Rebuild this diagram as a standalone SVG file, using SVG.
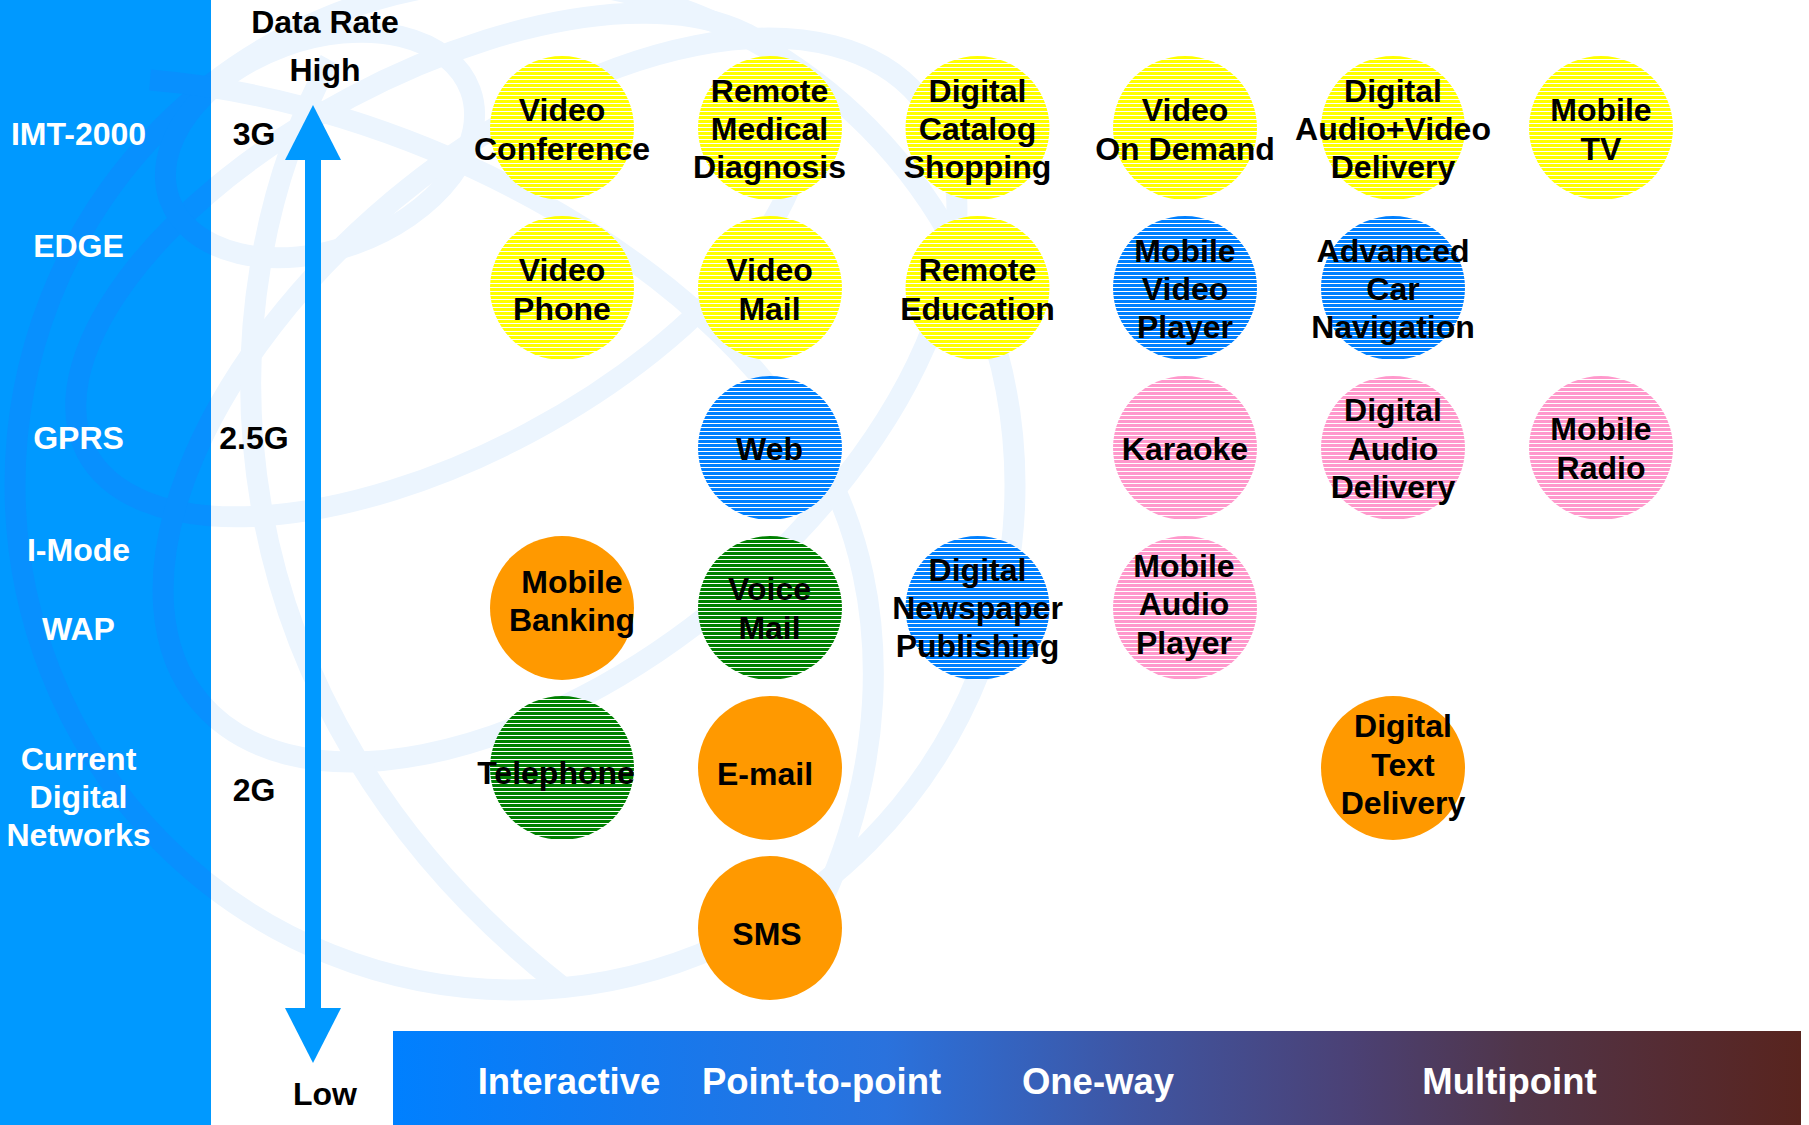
<svg xmlns="http://www.w3.org/2000/svg" width="1809" height="1125" viewBox="0 0 1809 1125">
<style>
.t{font-family:"Liberation Sans",Arial,sans-serif;font-weight:bold;font-size:32px;text-anchor:middle;fill:#000}
.w{fill:#fff}
.b{font-size:36.5px}
.globe{fill:none}
</style>
<defs>
<pattern id="pY" width="8" height="4" patternUnits="userSpaceOnUse"><rect width="8" height="4" fill="#ffff00"/><rect y="3" width="8" height="1" fill="#fff"/></pattern>
<pattern id="pB" width="8" height="4" patternUnits="userSpaceOnUse"><rect width="8" height="4" fill="#0080ff"/><rect y="3" width="8" height="1" fill="#fff"/></pattern>
<pattern id="pP" width="8" height="4" patternUnits="userSpaceOnUse"><rect width="8" height="4" fill="#ff99cc"/><rect y="3" width="8" height="1" fill="#fff"/></pattern>
<pattern id="pG" width="8" height="4" patternUnits="userSpaceOnUse"><rect width="8" height="4" fill="#008000"/><rect y="3" width="8" height="1" fill="#fff"/></pattern>
<linearGradient id="barGrad" x1="0" y1="0" x2="1" y2="0">
<stop offset="0" stop-color="#0080ff"/>
<stop offset="0.35" stop-color="#2a72dd"/>
<stop offset="0.52" stop-color="#3e56a4"/>
<stop offset="0.68" stop-color="#4b4175"/>
<stop offset="0.8" stop-color="#503549"/>
<stop offset="0.9" stop-color="#552c34"/>
<stop offset="1" stop-color="#58241e"/>
</linearGradient>
<clipPath id="panelClip"><rect x="0" y="0" width="211" height="1125"/></clipPath>
<g id="globeShapes" class="globe">
<ellipse cx="515" cy="485" rx="500" ry="505"/>
<ellipse cx="440" cy="265" rx="400" ry="190" transform="rotate(-28 440 265)"/>
<ellipse cx="560" cy="400" rx="470" ry="260" transform="rotate(-40 560 400)"/>
<ellipse cx="320" cy="145" rx="160" ry="105" transform="rotate(-20 320 145)"/>
<path d="M 330 60 C 200 300, 200 700, 560 985"/>
<path d="M 150 80 C 400 100, 700 250, 820 460 C 900 600, 890 800, 790 960"/>
</g>
</defs>

<rect width="1809" height="1125" fill="#fff"/>

<g id="background-globe">
<use href="#globeShapes" stroke="#ecf5fe" stroke-width="21"/>
</g>

<g id="panel">
<rect x="0" y="0" width="211" height="1125" fill="#0099ff"/>
<use href="#globeShapes" stroke="#0890fe" stroke-width="21" clip-path="url(#panelClip)"/>
<text class="t w" x="78.5" y="145">IMT-2000</text>
<text class="t w" x="78.5" y="257">EDGE</text>
<text class="t w" x="78.5" y="449">GPRS</text>
<text class="t w" x="78.5" y="561">I-Mode</text>
<text class="t w" x="78.5" y="640">WAP</text>
<text class="t w" x="78.5" y="769.5">Current</text>
<text class="t w" x="78.5" y="807.5">Digital</text>
<text class="t w" x="78.5" y="845.5">Networks</text>
</g>

<g id="axis">
<rect x="305" y="158" width="16" height="852" fill="#0099ff"/>
<polygon points="313,105 285,160 341,160" fill="#0099ff"/>
<polygon points="313,1063 285,1008 341,1008" fill="#0099ff"/>
<text class="t" x="325" y="33">Data Rate</text>
<text class="t" x="325" y="81">High</text>
<text class="t" x="325" y="1105">Low</text>
<text class="t" x="254" y="145">3G</text>
<text class="t" x="254" y="449">2.5G</text>
<text class="t" x="254" y="801">2G</text>
</g>

<g id="connectors"></g>

<g id="n-video-conference"><circle cx="562" cy="128" r="72" fill="url(#pY)"/><text class="t" x="562" y="121">Video</text><text class="t" x="562" y="159.5">Conference</text></g>
<g id="n-remote-medical"><circle cx="770" cy="128" r="72" fill="url(#pY)"/><text class="t" x="769.5" y="101.5">Remote</text><text class="t" x="769.5" y="139.5">Medical</text><text class="t" x="769.5" y="177.5">Diagnosis</text></g>
<g id="n-digital-catalog"><circle cx="977.5" cy="128" r="72" fill="url(#pY)"/><text class="t" x="977.5" y="101.5">Digital</text><text class="t" x="977.5" y="139.5">Catalog</text><text class="t" x="977.5" y="177.5">Shopping</text></g>
<g id="n-video-on-demand"><circle cx="1185" cy="128" r="72" fill="url(#pY)"/><text class="t" x="1185" y="121">Video</text><text class="t" x="1185" y="159.5">On Demand</text></g>
<g id="n-digital-av"><circle cx="1393" cy="128" r="72" fill="url(#pY)"/><text class="t" x="1393" y="101.5">Digital</text><text class="t" x="1393" y="139.5">Audio+Video</text><text class="t" x="1393" y="177.5">Delivery</text></g>
<g id="n-mobile-tv"><circle cx="1601" cy="128" r="72" fill="url(#pY)"/><text class="t" x="1601" y="121">Mobile</text><text class="t" x="1601" y="159.5">TV</text></g>

<g id="n-video-phone"><circle cx="562" cy="288" r="72" fill="url(#pY)"/><text class="t" x="562" y="281">Video</text><text class="t" x="562" y="319.5">Phone</text></g>
<g id="n-video-mail"><circle cx="770" cy="288" r="72" fill="url(#pY)"/><text class="t" x="769.5" y="281">Video</text><text class="t" x="769.5" y="319.5">Mail</text></g>
<g id="n-remote-education"><circle cx="977.5" cy="288" r="72" fill="url(#pY)"/><text class="t" x="977.5" y="281">Remote</text><text class="t" x="977.5" y="319.5">Education</text></g>
<g id="n-mobile-video-player"><circle cx="1185" cy="288" r="72" fill="url(#pB)"/><text class="t" x="1185" y="261.5">Mobile</text><text class="t" x="1185" y="299.5">Video</text><text class="t" x="1185" y="338">Player</text></g>
<g id="n-advanced-car"><circle cx="1393" cy="288" r="72" fill="url(#pB)"/><text class="t" x="1393" y="261.5">Advanced</text><text class="t" x="1393" y="299.5">Car</text><text class="t" x="1393" y="338">Navigation</text></g>

<g id="n-web"><circle cx="770" cy="448" r="72" fill="url(#pB)"/><text class="t" x="769.5" y="460">Web</text></g>
<g id="n-karaoke"><circle cx="1185" cy="448" r="72" fill="url(#pP)"/><text class="t" x="1185" y="460">Karaoke</text></g>
<g id="n-digital-audio"><circle cx="1393" cy="448" r="72" fill="url(#pP)"/><text class="t" x="1393" y="421">Digital</text><text class="t" x="1393" y="459.5">Audio</text><text class="t" x="1393" y="497.5">Delivery</text></g>
<g id="n-mobile-radio"><circle cx="1601" cy="448" r="72" fill="url(#pP)"/><text class="t" x="1601" y="440">Mobile</text><text class="t" x="1601" y="478.5">Radio</text></g>

<g id="n-mobile-banking"><circle cx="562" cy="608" r="72" fill="#ff9900"/><text class="t" x="572" y="592.5">Mobile</text><text class="t" x="572" y="631">Banking</text></g>
<g id="n-voice-mail"><circle cx="770" cy="608" r="72" fill="url(#pG)"/><text class="t" x="769.5" y="600">Voice</text><text class="t" x="769.5" y="638.5">Mail</text></g>
<g id="n-digital-newspaper"><circle cx="977.5" cy="608" r="72" fill="url(#pB)"/><text class="t" x="977.5" y="581">Digital</text><text class="t" x="977.5" y="619">Newspaper</text><text class="t" x="977.5" y="657">Publishing</text></g>
<g id="n-mobile-audio-player"><circle cx="1185" cy="608" r="72" fill="url(#pP)"/><text class="t" x="1184" y="576.5">Mobile</text><text class="t" x="1184" y="615">Audio</text><text class="t" x="1184" y="653.5">Player</text></g>

<g id="n-telephone"><circle cx="562" cy="768" r="72" fill="url(#pG)"/><text class="t" x="556" y="784">Telephone</text></g>
<g id="n-email"><circle cx="770" cy="768" r="72" fill="#ff9900"/><text class="t" x="765" y="784.5">E-mail</text></g>
<g id="n-digital-text"><circle cx="1393" cy="768" r="72" fill="#ff9900"/><text class="t" x="1403" y="737">Digital</text><text class="t" x="1403" y="775.5">Text</text><text class="t" x="1403" y="813.5">Delivery</text></g>

<g id="n-sms"><circle cx="770" cy="928" r="72" fill="#ff9900"/><text class="t" x="767" y="944.5">SMS</text></g>

<g id="bottom-bar">
<rect x="393" y="1031" width="1408" height="94" fill="url(#barGrad)"/>
<text class="t w b" x="569" y="1094">Interactive</text>
<text class="t w b" x="821.5" y="1094">Point-to-point</text>
<text class="t w b" x="1098" y="1094">One-way</text>
<text class="t w b" x="1509.5" y="1094">Multipoint</text>
</g>
</svg>
